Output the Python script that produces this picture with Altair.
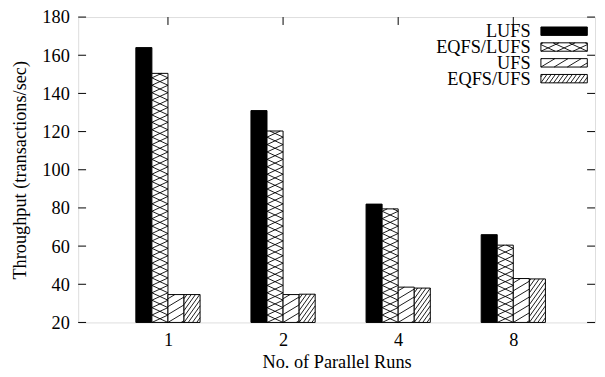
import altair as alt
import pandas as pd

# ---------------- data ----------------
runs = ["1", "2", "4", "8"]
series = ["LUFS", "EQFS/LUFS", "UFS", "EQFS/UFS"]
lufs = [164, 131, 82, 66]
eqfs_lufs = [150.5, 120.3, 79.5, 60.5]
ufs = [34.6, 34.6, 38.5, 43]
eqfs_ufs = [34.6, 34.8, 38, 42.8]
y_ticks = [20, 40, 60, 80, 100, 120, 140, 160, 180]

values_by_series = [lufs, eqfs_lufs, ufs, eqfs_ufs]

# ---------------- styles / layout ----------------
W, H = 523, 309
X_DOMAIN = [-0.78, 3.71]
Y_DOMAIN = [20, 180]
PXX = W / (X_DOMAIN[1] - X_DOMAIN[0])
PXY = H / (Y_DOMAIN[1] - Y_DOMAIN[0])
BAR_W = 16.25 / PXX
FONT = "Liberation Serif"
FS = 18.5
FILLS = ["black", "white", "white", "white"]
# hatch families per series index: (slope, spacing in px, flipped)
HATCH = {
    1: [(7.5 / 16.25, 7.5, 0), (7.5 / 16.25, 7.5, 1)],
    2: [(0.6, 8.0, 0)],
    3: [(1.4, 6.0, 0)],
}
# legend box geometry (data units)
LEG_TEXT_X = 3.15
LEG_X0, LEG_X1 = 3.24, 3.643
LEG_TOP, LEG_STEP, LEG_H = 174.8, 8.29, 4.4

# ---------------- tables ----------------
bar_rows = []
for si, s in enumerate(series):
    for gi, r in enumerate(runs):
        bar_rows.append({"gi": gi, "run": r, "si": si, "series": s,
                         "value": values_by_series[si][gi]})
bars_df = pd.DataFrame(bar_rows)

fam_rows = []
for si, fams in HATCH.items():
    for (m, sp, flip) in fams:
        fam_rows.append({"si": si, "m": m, "sp": sp, "flip": flip})
fam_df = pd.DataFrame(fam_rows)

bars_hatch_df = bars_df.merge(fam_df, on="si")
leg_df = pd.DataFrame({"si": list(range(len(series))), "series": series})
leg_hatch_df = leg_df.merge(fam_df, on="si")
ytick_df = pd.DataFrame({"t": y_ticks})
xtick_df = pd.DataFrame({"gi": list(range(len(runs)))})

# ---------------- scales / axes ----------------
xs = alt.Scale(domain=X_DOMAIN, nice=False, zero=False)
ys = alt.Scale(domain=Y_DOMAIN, nice=False, zero=False)
label_expr = "[" + ",".join(f"'{r}'" for r in runs) + "][datum.value]"
x_axis = alt.Axis(values=list(range(len(runs))), labelExpr=label_expr,
                  title="No. of Parallel Runs", tickSize=0, domain=False, grid=False,
                  labelFont=FONT, labelFontSize=FS, titleFont=FONT, titleFontSize=FS,
                  labelColor="black", titleColor="black", titleFontWeight="normal",
                  labelPadding=8, titlePadding=4)
y_axis = alt.Axis(values=y_ticks, title="Throughput (transactions/sec)",
                  tickSize=0, domain=False, grid=False,
                  labelFont=FONT, labelFontSize=FS, titleFont=FONT, titleFontSize=FS,
                  labelColor="black", titleColor="black", titleFontWeight="normal",
                  labelPadding=9, titlePadding=13)


def X(field):
    return alt.X(field, type="quantitative", scale=xs, axis=x_axis)


def Y(field):
    return alt.Y(field, type="quantitative", scale=ys, axis=y_axis)


def bar_box(chart):
    return (chart
            .transform_calculate(x0=f"datum.gi + (datum.si - 2) * {BAR_W}")
            .transform_calculate(x1=f"datum.x0 + {BAR_W}")
            .transform_calculate(y0=f"{Y_DOMAIN[0]}")
            .transform_calculate(y1="datum.value"))


def legend_box(chart):
    return (chart
            .transform_calculate(x0=f"{LEG_X0}")
            .transform_calculate(x1=f"{LEG_X1}")
            .transform_calculate(y1=f"{LEG_TOP} - datum.si * {LEG_STEP}")
            .transform_calculate(y0=f"datum.y1 - {LEG_H}"))


def hatch(chart):
    return (chart
            .transform_calculate(wpx=f"(datum.x1 - datum.x0) * {PXX}")
            .transform_calculate(hpx=f"(datum.y1 - datum.y0) * {PXY}")
            .transform_calculate(ks="sequence(floor(-datum.m * datum.wpx / datum.sp) - 1, ceil(datum.hpx / datum.sp) + 2)")
            .transform_flatten(["ks"], as_=["k"])
            .transform_calculate(c="datum.k * datum.sp")
            .transform_calculate(xa="datum.c < 0 ? -datum.c / datum.m : 0")
            .transform_calculate(ya="max(datum.c, 0)")
            .transform_calculate(xb="(datum.c + datum.m * datum.wpx) > datum.hpx ? (datum.hpx - datum.c) / datum.m : datum.wpx")
            .transform_calculate(yb="min(datum.c + datum.m * datum.wpx, datum.hpx)")
            .transform_filter("datum.xb > datum.xa + 0.05 && datum.yb > datum.ya")
            .transform_calculate(hx=f"datum.x0 + (datum.flip ? datum.wpx - datum.xa : datum.xa) / {PXX}")
            .transform_calculate(hx2=f"datum.x0 + (datum.flip ? datum.wpx - datum.xb : datum.xb) / {PXX}")
            .transform_calculate(hy=f"datum.y0 + datum.ya / {PXY}")
            .transform_calculate(hy2=f"datum.y0 + datum.yb / {PXY}")
            .mark_rule(color="black", strokeWidth=0.9)
            .encode(x=X("hx"), x2="hx2:Q", y=Y("hy"), y2="hy2:Q"))


fill_enc = alt.Fill("series:N", scale=alt.Scale(domain=series, range=FILLS), legend=None)

# ---------------- layers ----------------
bottom_ticks = alt.Chart(xtick_df).mark_rule(color="black", strokeWidth=1).encode(
    x=X("gi"), y=alt.value(H - 8), y2=alt.value(H))
top_ticks = alt.Chart(xtick_df).mark_rule(color="black", strokeWidth=1).encode(
    x=X("gi"), y=alt.value(0), y2=alt.value(8))
left_ticks = alt.Chart(ytick_df).mark_rule(color="black", strokeWidth=1).encode(
    y=Y("t"), x=alt.value(0), x2=alt.value(8))
right_ticks = alt.Chart(ytick_df).mark_rule(color="black", strokeWidth=1).encode(
    y=Y("t"), x=alt.value(W - 8), x2=alt.value(W))

bars = bar_box(alt.Chart(bars_df)).mark_rect(stroke="black", strokeWidth=1).encode(
    x=X("x0"), x2="x1:Q", y=Y("y0"), y2="y1:Q", fill=fill_enc)
bars_hatch = hatch(bar_box(alt.Chart(bars_hatch_df)))

leg_boxes = legend_box(alt.Chart(leg_df)).mark_rect(stroke="black", strokeWidth=1).encode(
    x=X("x0"), x2="x1:Q", y=Y("y0"), y2="y1:Q", fill=fill_enc)
leg_hatch = hatch(legend_box(alt.Chart(leg_hatch_df)))
leg_text = (alt.Chart(leg_df)
            .transform_calculate(tx=f"{LEG_TEXT_X}")
            .transform_calculate(ty=f"{LEG_TOP} - datum.si * {LEG_STEP} - {LEG_H / 2}")
            .mark_text(align="right", baseline="middle", font=FONT, fontSize=FS, color="black")
            .encode(x=X("tx"), y=Y("ty"), text="series:N"))

chart = alt.layer(
    bottom_ticks, bars, bars_hatch, top_ticks, left_ticks, right_ticks,
    leg_boxes, leg_hatch, leg_text,
).properties(
    width=W, height=H,
    autosize=alt.AutoSizeParams(type="none"),
    padding={"left": 71, "top": 7, "right": 2, "bottom": 50},
).configure_view(stroke="black", strokeWidth=1).configure(background="white")

chart.save("out.html", embed_options={"renderer": "svg", "actions": False})
